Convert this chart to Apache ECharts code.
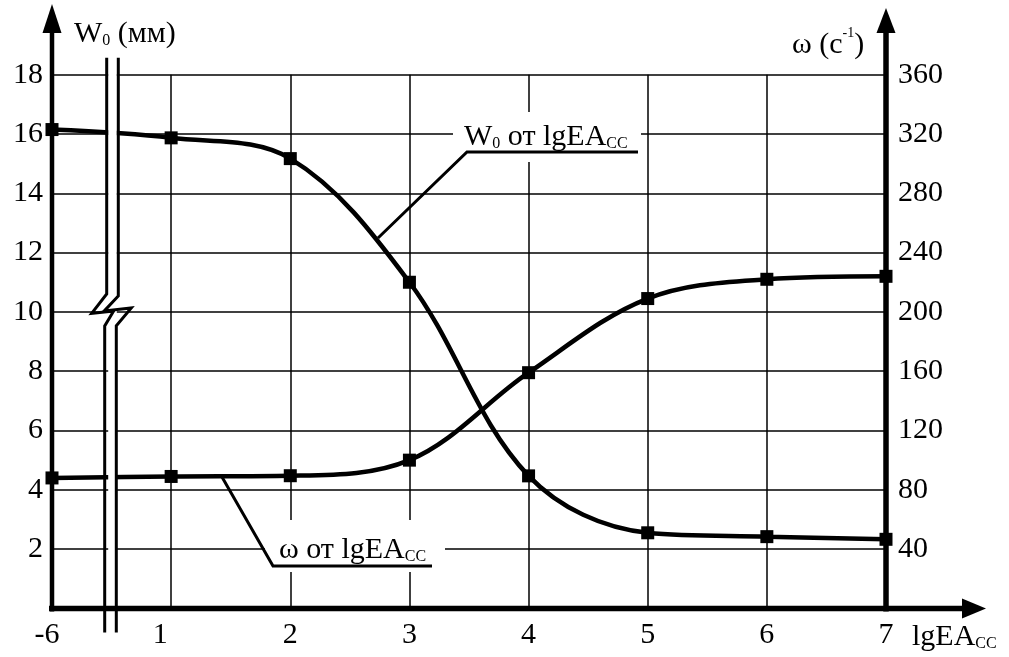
<!DOCTYPE html>
<html><head><meta charset="utf-8">
<script src="https://cdn.jsdelivr.net/npm/echarts@6/dist/echarts.min.js"></script>
<style>html,body{margin:0;padding:0;background:#fff}#c{width:1009px;height:657px}</style>
</head><body><div id="c"></div>
<script>
// ---- data ----
const categories = ['-6', '1', '2', '3', '4', '5', '6', '7'];
const w0Values = [16.15, 15.87, 15.17, 11.0, 4.47, 2.55, 2.42, 2.33];      // W0, mm (left axis)
const omegaValues = [88, 89, 89.5, 100, 159, 209, 222, 224];               // omega, 1/s (right axis)
const leftAxisRange = [0, 18, 2];
const rightAxisRange = [0, 360, 40];
const leftAxisName = 'W₀ (мм)';
const rightAxisName = 'ω (c⁻¹)';
const xAxisName = 'lgEA_CC';
const w0Note = 'W₀ от lgEA_CC';
const omegaNote = 'ω от lgEA_CC';

const FF = "'Liberation Serif', 'Times New Roman', serif";
const richBase = {
  m: {fontSize: 30, fontFamily: FF, color: '#000', lineHeight: 34, verticalAlign: 'bottom'},
  s: {fontSize: 16, fontFamily: FF, color: '#000', lineHeight: 13, verticalAlign: 'bottom'},
  u: {fontSize: 14, fontFamily: FF, color: '#000', lineHeight: 19, verticalAlign: 'top'}
};

const chart = echarts.init(document.getElementById('c'), null, {renderer: 'canvas'});
chart.setOption({
  animation: false,
  backgroundColor: '#fff',
  grid: {left: 52, right: 123, top: 74.7, bottom: 48.6, containLabel: false},
  xAxis: {
    type: 'category', data: categories, boundaryGap: false,
    axisLine: {show: false}, axisTick: {show: false},
    splitLine: {show: true, lineStyle: {color: '#000', width: 1.5}},
    axisLabel: {
      margin: 12, fontSize: 30, fontFamily: FF, color: '#000',
      formatter: v => v === '1' ? '{a|1}' : (v === '-6' ? '{b|-6}' : v),
      rich: {
        a: {fontSize: 30, fontFamily: FF, color: '#000', padding: [0, 22, 0, 0]},
        b: {fontSize: 30, fontFamily: FF, color: '#000', padding: [0, 10, 0, 0]}
      }
    }
  },
  yAxis: [
    {type: 'value', min: leftAxisRange[0], max: leftAxisRange[1], interval: leftAxisRange[2],
     axisLine: {show: false}, axisTick: {show: false},
     splitLine: {show: true, lineStyle: {color: '#000', width: 1.5}},
     axisLabel: {margin: 9, fontSize: 30, fontFamily: FF, color: '#000',
       formatter: v => v === 0 ? '' : String(v)}},
    {type: 'value', position: 'right', min: rightAxisRange[0], max: rightAxisRange[1], interval: rightAxisRange[2],
     axisLine: {show: false}, axisTick: {show: false}, splitLine: {show: false},
     axisLabel: {margin: 12, fontSize: 30, fontFamily: FF, color: '#000',
       formatter: v => v === 0 ? '' : String(v)}}
  ],
  series: [
    {name: 'W0', type: 'line', yAxisIndex: 0, data: w0Values, smooth: 0.35,
     symbol: 'rect', symbolSize: 13, showSymbol: true,
     lineStyle: {color: '#000', width: 4.5}, itemStyle: {color: '#000'}, z: 5},
    {name: 'omega', type: 'line', yAxisIndex: 1, data: omegaValues, smooth: 0.35,
     symbol: 'rect', symbolSize: 13, showSymbol: true,
     lineStyle: {color: '#000', width: 4.5}, itemStyle: {color: '#000'}, z: 5}
  ]
});

function sub(str) {
  // 'W₀ от lgEA_CC' -> rich tokens
  let out = '';
  const parts = str.split(/(₀|_CC|⁻¹)/);
  for (const p of parts) {
    if (!p) continue;
    if (p === '₀') out += '{s|0}';
    else if (p === '_CC') out += '{s|CC}';
    else if (p === '⁻¹') out += '{u|-1}';
    else out += '{m|' + p + '}';
  }
  return out;
}

// geometry from the axes
const xL = chart.convertToPixel({xAxisIndex: 0}, categories[0]);
const xR = chart.convertToPixel({xAxisIndex: 0}, categories[categories.length - 1]);
const yB = chart.convertToPixel({yAxisIndex: 0}, 0);
const yT = chart.convertToPixel({yAxisIndex: 0}, leftAxisRange[1]);
const yTen = chart.convertToPixel({yAxisIndex: 0}, 10);
const bx1 = xL + 54.7, bx2 = xL + 66.3;
const stroke = {stroke: '#000', lineWidth: 5, fill: null};
const thin = {stroke: '#000', lineWidth: 3, fill: null};
const g = [
  // white gap of the axis break
  {type: 'rect', shape: {x: bx1 + 1.5, y: yT - 17, width: bx2 - bx1 - 3, height: yB - yT + 13}, style: {fill: '#fff'}, z: 20},
  {type: 'polyline', shape: {points: [[bx1, yT - 17], [bx1, yTen - 18], [bx1 - 15, yTen + 1.5], [bx1 + 7, yTen - 1], [bx1 - 2, yTen + 14], [bx1 - 2, yB + 24]]}, style: thin, z: 21},
  {type: 'polyline', shape: {points: [[bx2, yT - 17], [bx2, yTen - 16], [bx2 - 14, yTen - 1], [bx2 + 13, yTen - 4], [bx2 - 2, yTen + 14], [bx2 - 2, yB + 24]]}, style: thin, z: 21},
  // axes with arrows
  {type: 'line', shape: {x1: xL, y1: yB + 3, x2: xL, y2: 30}, style: {stroke: '#000', lineWidth: 4.5}, z: 30},
  {type: 'polygon', shape: {points: [[xL, 4], [xL - 9.5, 33], [xL + 9.5, 33]]}, style: {fill: '#000'}, z: 30},
  {type: 'line', shape: {x1: xR, y1: yB + 3, x2: xR, y2: 30}, style: {stroke: '#000', lineWidth: 5.5}, z: 30},
  {type: 'polygon', shape: {points: [[xR, 8], [xR - 9.5, 33], [xR + 9.5, 33]]}, style: {fill: '#000'}, z: 30},
  {type: 'line', shape: {x1: xL - 3, y1: yB, x2: 966, y2: yB}, style: {stroke: '#000', lineWidth: 5.5}, z: 30},
  {type: 'polygon', shape: {points: [[986, yB], [962, yB - 10], [962, yB + 10]]}, style: {fill: '#000'}, z: 30},
  // axis names
  {type: 'text', x: 74, y: 15, style: {text: sub(leftAxisName), rich: richBase}, z: 30},
  {type: 'text', x: 792, y: 26, style: {text: sub(rightAxisName), rich: richBase}, z: 30},
  {type: 'text', x: 912, y: 618, style: {text: sub(xAxisName), rich: richBase}, z: 30},
  // W0 annotation
  {type: 'rect', shape: {x: 453, y: 112, width: 188, height: 50}, style: {fill: '#fff'}, z: 22},
  {type: 'text', x: 464, y: 118, style: {text: sub(w0Note), rich: richBase}, z: 23},
  {type: 'polyline', shape: {points: [[638, 152], [467, 152], [378, 238]]}, style: {stroke: '#000', lineWidth: 3, fill: null}, z: 23},
  // omega annotation
  {type: 'rect', shape: {x: 265, y: 520, width: 180, height: 52}, style: {fill: '#fff'}, z: 22},
  {type: 'text', x: 279, y: 531, style: {text: sub(omegaNote), rich: richBase}, z: 23},
  {type: 'polyline', shape: {points: [[432, 566], [273, 566], [222, 477]]}, style: {stroke: '#000', lineWidth: 3, fill: null}, z: 23}
];
chart.setOption({graphic: g});
</script>
</body></html>
